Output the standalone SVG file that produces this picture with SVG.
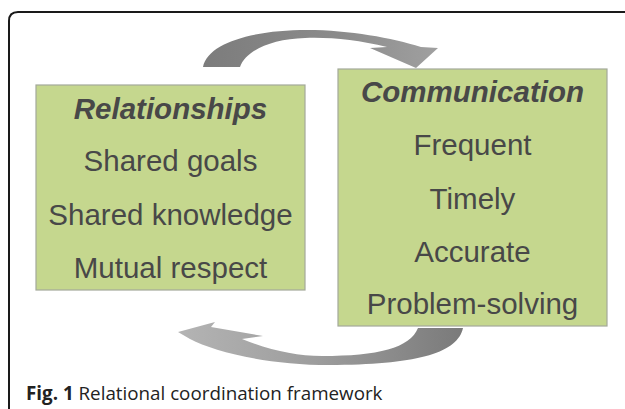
<svg xmlns="http://www.w3.org/2000/svg" width="625" height="409" viewBox="0 0 625 409">
<defs>
<linearGradient id="gTop" x1="0" y1="0" x2="1" y2="0">
<stop offset="0" stop-color="#7c7c7c"/>
<stop offset="0.6" stop-color="#8c8c8c"/>
<stop offset="1" stop-color="#a0a0a0"/>
</linearGradient>
<linearGradient id="gBot" x1="0" y1="0" x2="1" y2="0">
<stop offset="0" stop-color="#b4b4b4"/>
<stop offset="0.5" stop-color="#9c9c9c"/>
<stop offset="1" stop-color="#7a7a7a"/>
</linearGradient>
</defs>
<style>
.box{fill:#c5d78e;stroke:#a3a99a;stroke-width:1.2}
.t{font-family:"Liberation Sans",Arial,sans-serif;font-size:29.5px;fill:#484848;text-anchor:middle}
.h{font-weight:bold;font-style:italic}
.cap{font-family:"Open Sans","Noto Sans",sans-serif;font-size:18.8px;fill:#222}
</style>
<rect width="625" height="409" fill="#fff"/>
<path d="M9,409 V21 Q9,12 18,12 H640" fill="none" stroke="#1a1a1a" stroke-width="2"/>
<g id="connectors">
<path id="arrow-top" fill="url(#gTop)" d="M203,67 C208,42 255,30 307,30 C350,30 392,38 421,47 L438,48 L416,68 L370,48 L387,47 C358,40 330,37 305,38 C272,39 246,50 240,67 Z"/>
<path id="arrow-bottom" fill="url(#gBot)" d="M463,328 C458,352 420,364 337,365 C270,366 215,352 190,339 L178,332 L215,322 L211,327 L263,336 L242,339 C270,350 296,356 322,356 C378,356 410,348 418,328 Z"/>
</g>
<g id="relationships">
<rect class="box" x="36" y="85" width="269" height="205"/>
<text class="t h" x="170.5" y="119">Relationships</text>
<text class="t" x="170.5" y="171">Shared goals</text>
<text class="t" x="170.5" y="225">Shared knowledge</text>
<text class="t" x="170.5" y="278">Mutual respect</text>
</g>
<g id="communication">
<rect class="box" x="338" y="69" width="269" height="257"/>
<text class="t h" x="472.5" y="102">Communication</text>
<text class="t" x="472.5" y="155">Frequent</text>
<text class="t" x="472.5" y="209">Timely</text>
<text class="t" x="472.5" y="262">Accurate</text>
<text class="t" x="472.5" y="314">Problem-solving</text>
</g>
<text class="cap" x="26" y="400"><tspan font-weight="bold">Fig. 1</tspan> Relational coordination framework</text>
</svg>
